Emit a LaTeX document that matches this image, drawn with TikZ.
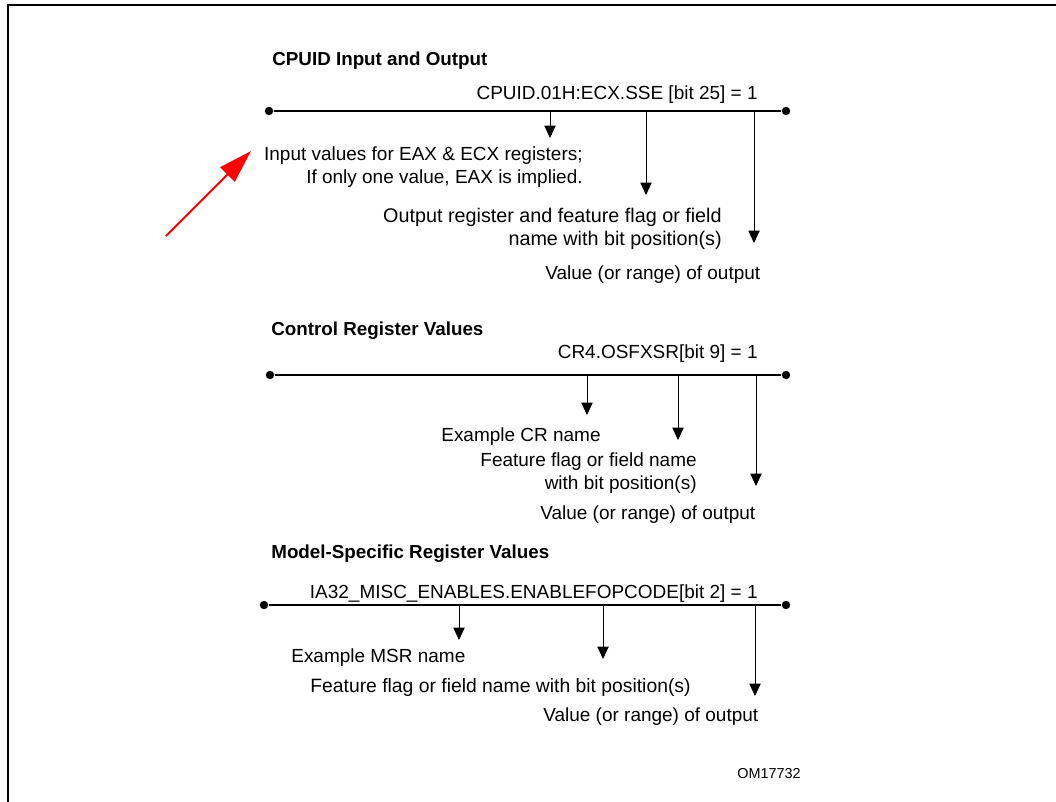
\documentclass[tikz,border=0pt]{standalone}
\usepackage{fontspec}
\setmainfont{Liberation Sans}
\usetikzlibrary{arrows.meta,positioning}

\tikzset{
    every node/.style={inner sep=0pt, font=\fontsize{10.8}{13.1}\selectfont},
    heading/.style={anchor=west, yshift=-1.5pt, font=\fontsize{10.7}{12}\selectfont\bfseries},
    lefttext/.style={anchor=west, yshift=-1.5pt},
    righttext/.style={anchor=east, align=right, yshift=-1.5pt},
    regline/.style={line width=0.8pt},
    pointer/.style={-{Triangle[length=7pt,width=6.4pt]}, line width=0.55pt},
    enddot/.style={circle, fill, inner sep=0pt, minimum size=4.8pt},
    frameline/.style={line width=1.7pt}
}

\begin{document}
\begin{tikzpicture}[x=0.02cm, y=-0.02cm]
    \useasboundingbox (0,0) rectangle (1056,802);
    \draw[frameline] (8,802) -- (8,5) -- (1056,5);

    % CPUID
    \node[heading] (cpuidhead) at (272,58) {CPUID Input and Output};
    \node[righttext] (cpuidval) at (758,92) {CPUID.01H:ECX.SSE [bit 25] = 1};
    \node[enddot] (cpuidL) at (269,111) {};
    \node[enddot] (cpuidR) at (786,111) {};
    \draw[regline] (cpuidL) -- (cpuidR);
    \node[righttext] (cpuidin) at (583,164.5) {Input values for EAX \& ECX registers;\\If only one value, EAX is implied.};
    \node[righttext, font=\fontsize{11.25}{13.1}\selectfont] (cpuidout) at (722,226.5) {Output register and feature flag or field\\name with bit position(s)};
    \node[lefttext] (cpuidres) at (545,272) {Value (or range) of output};
    \coordinate (cpuidA) at (550,111);
    \coordinate (cpuidAe) at (550,138);
    \coordinate (cpuidB) at (646,111);
    \coordinate (cpuidBe) at (646,195);
    \coordinate (cpuidC) at (754,111);
    \coordinate (cpuidCe) at (754,243);
    \draw[pointer] (cpuidA) -- (cpuidAe);
    \draw[pointer] (cpuidB) -- (cpuidBe);
    \draw[pointer] (cpuidC) -- (cpuidCe);
    \coordinate (redtail) at (166,236);
    \coordinate (redtip) at (251,151);
    \draw[red, line width=1.2pt, -{Triangle[length=19pt,width=11.5pt]}] (redtail) -- (redtip);

    % control register
    \node[heading] (crhead) at (271,328) {Control Register Values};
    \node[righttext] (crval) at (758,351) {CR4.OSFXSR[bit 9] = 1};
    \node[enddot] (crL) at (270,375) {};
    \node[enddot] (crR) at (786,375) {};
    \draw[regline] (crL) -- (crR);
    \node[lefttext] (crname) at (441,434) {Example CR name};
    \node[righttext] (crflag) at (697,470.5) {Feature flag or field name\\with bit position(s)};
    \node[lefttext] (crres) at (540,512) {Value (or range) of output};
    \coordinate (crA) at (587,375);
    \coordinate (crAe) at (587,415);
    \coordinate (crB) at (678,375);
    \coordinate (crBe) at (678,440);
    \coordinate (crC) at (756,375);
    \coordinate (crCe) at (756,486);
    \draw[pointer] (crA) -- (crAe);
    \draw[pointer] (crB) -- (crBe);
    \draw[pointer] (crC) -- (crCe);

    % MSR
    \node[heading] (msrhead) at (271,551) {Model-Specific Register Values};
    \node[righttext] (msrval) at (758,591) {IA32\_MISC\_ENABLES.ENABLEFOPCODE[bit 2] = 1};
    \node[enddot] (msrL) at (264,605) {};
    \node[enddot] (msrR) at (786,605) {};
    \draw[regline] (msrL) -- (msrR);
    \node[lefttext] (msrname) at (291,655) {Example MSR name};
    \node[lefttext, font=\fontsize{11}{13.1}\selectfont] (msrflag) at (310,685) {Feature flag or field name with bit position(s)};
    \node[lefttext] (msrres) at (543,714) {Value (or range) of output};
    \coordinate (msrA) at (459,605);
    \coordinate (msrAe) at (459,640);
    \coordinate (msrB) at (603,605);
    \coordinate (msrBe) at (603,659);
    \coordinate (msrC) at (755,605);
    \coordinate (msrCe) at (755,696);
    \draw[pointer] (msrA) -- (msrAe);
    \draw[pointer] (msrB) -- (msrBe);
    \draw[pointer] (msrC) -- (msrCe);

    \node[lefttext, font=\fontsize{8.2}{10}\selectfont] (figid) at (737,771) {OM17732};
\end{tikzpicture}
\end{document}
